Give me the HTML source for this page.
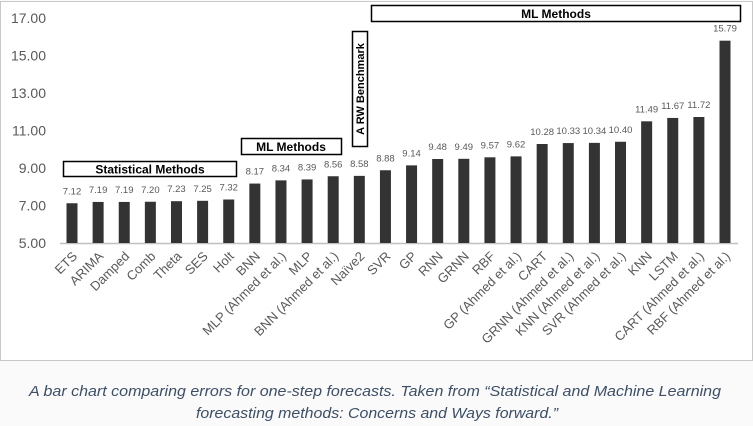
<!DOCTYPE html>
<html><head><meta charset="utf-8"><style>
html,body{margin:0;padding:0;background:#fafafa;width:753px;height:426px;overflow:hidden}
svg{display:block;font-family:"Liberation Sans",sans-serif}
</style></head><body>
<svg id="chart" width="753" height="426">
<rect x="0.5" y="1.5" width="752" height="359" fill="#fff" stroke="#c8c8c8"/>
<g id="grid"></g><g id="bars"></g>
<g font-weight="bold" font-size="12" fill="#000">
<rect x="63.5" y="161.5" width="173" height="15" fill="#fff" stroke="#000" stroke-width="1.5"/>
<text x="150" y="173.5" text-anchor="middle">Statistical Methods</text>
<rect x="241.5" y="138.5" width="100" height="16" fill="#fff" stroke="#000" stroke-width="1.5"/>
<text x="291" y="151" text-anchor="middle">ML Methods</text>
<rect x="352.5" y="31.5" width="15" height="115" fill="#fff" stroke="#000" stroke-width="1.5"/>
<text transform="translate(364,89) rotate(-90)" text-anchor="middle" font-size="11">A RW Benchmark</text>
<rect x="371.5" y="5.5" width="369" height="16" fill="#fff" stroke="#000" stroke-width="1.5"/>
<text x="556" y="18" text-anchor="middle">ML Methods</text>
</g>
<g font-style="italic" font-size="15" fill="#3d4f66">
<text x="375" y="396" text-anchor="middle" textLength="692" lengthAdjust="spacingAndGlyphs">A bar chart comparing errors for one-step forecasts. Taken from “Statistical and Machine Learning</text>
<text x="377" y="418" text-anchor="middle" textLength="362" lengthAdjust="spacingAndGlyphs">forecasting methods: Concerns and Ways forward.”</text>
</g>
</svg>
<script>
const categories=["ETS","ARIMA","Damped","Comb","Theta","SES","Holt","BNN","MLP (Ahmed et al.)","MLP","BNN  (Ahmed et al.)","Naïve2","SVR","GP","RNN","GRNN","RBF","GP  (Ahmed et al.)","CART","GRNN  (Ahmed et al.)","KNN  (Ahmed et al.)","SVR  (Ahmed et al.)","KNN","LSTM","CART  (Ahmed et al.)","RBF  (Ahmed et al.)"];
const values=[7.12,7.19,7.19,7.20,7.23,7.25,7.32,8.17,8.34,8.39,8.56,8.58,8.88,9.14,9.48,9.49,9.57,9.62,10.28,10.33,10.34,10.40,11.49,11.67,11.72,15.79];
const yTicks=[5,7,9,11,13,15,17];
const NS="http://www.w3.org/2000/svg";
function y(v){return 243-(v-5)*18.75;}
const n=categories.length;
function x(i){return 72+i*(725-72)/(n-1);}
const grid=document.getElementById('grid'),bars=document.getElementById('bars');
function mk(t,a,p){const e=document.createElementNS(NS,t);for(const k in a)e.setAttribute(k,a[k]);p.appendChild(e);return e;}
yTicks.forEach(t=>{const e=mk('text',{x:46,y:y(t)+5,'text-anchor':'end','font-size':'14',fill:'#595959'},grid);


e.textContent=t.toFixed(2);});
const ax=mk('line',{x1:60,x2:738,y1:243.5,y2:243.5,stroke:'#c0c0c0','stroke-width':1.5},grid);


categories.forEach((c,i)=>{const v=values[i],cx=x(i);
const r=mk('rect',{x:cx-5.5,y:y(v),width:11,height:243-y(v),fill:'#333'},bars);


const l=mk('text',{x:cx,y:y(v)-9,'text-anchor':'middle','font-size':'9.5',fill:'#595959'},bars);


l.textContent=v.toFixed(2);
const t=mk('text',{transform:`translate(${cx+6},${257}) rotate(-45)`,'text-anchor':'end','font-size':'13',fill:'#595959'},bars);


t.textContent=c;});
</script>
</body></html>
